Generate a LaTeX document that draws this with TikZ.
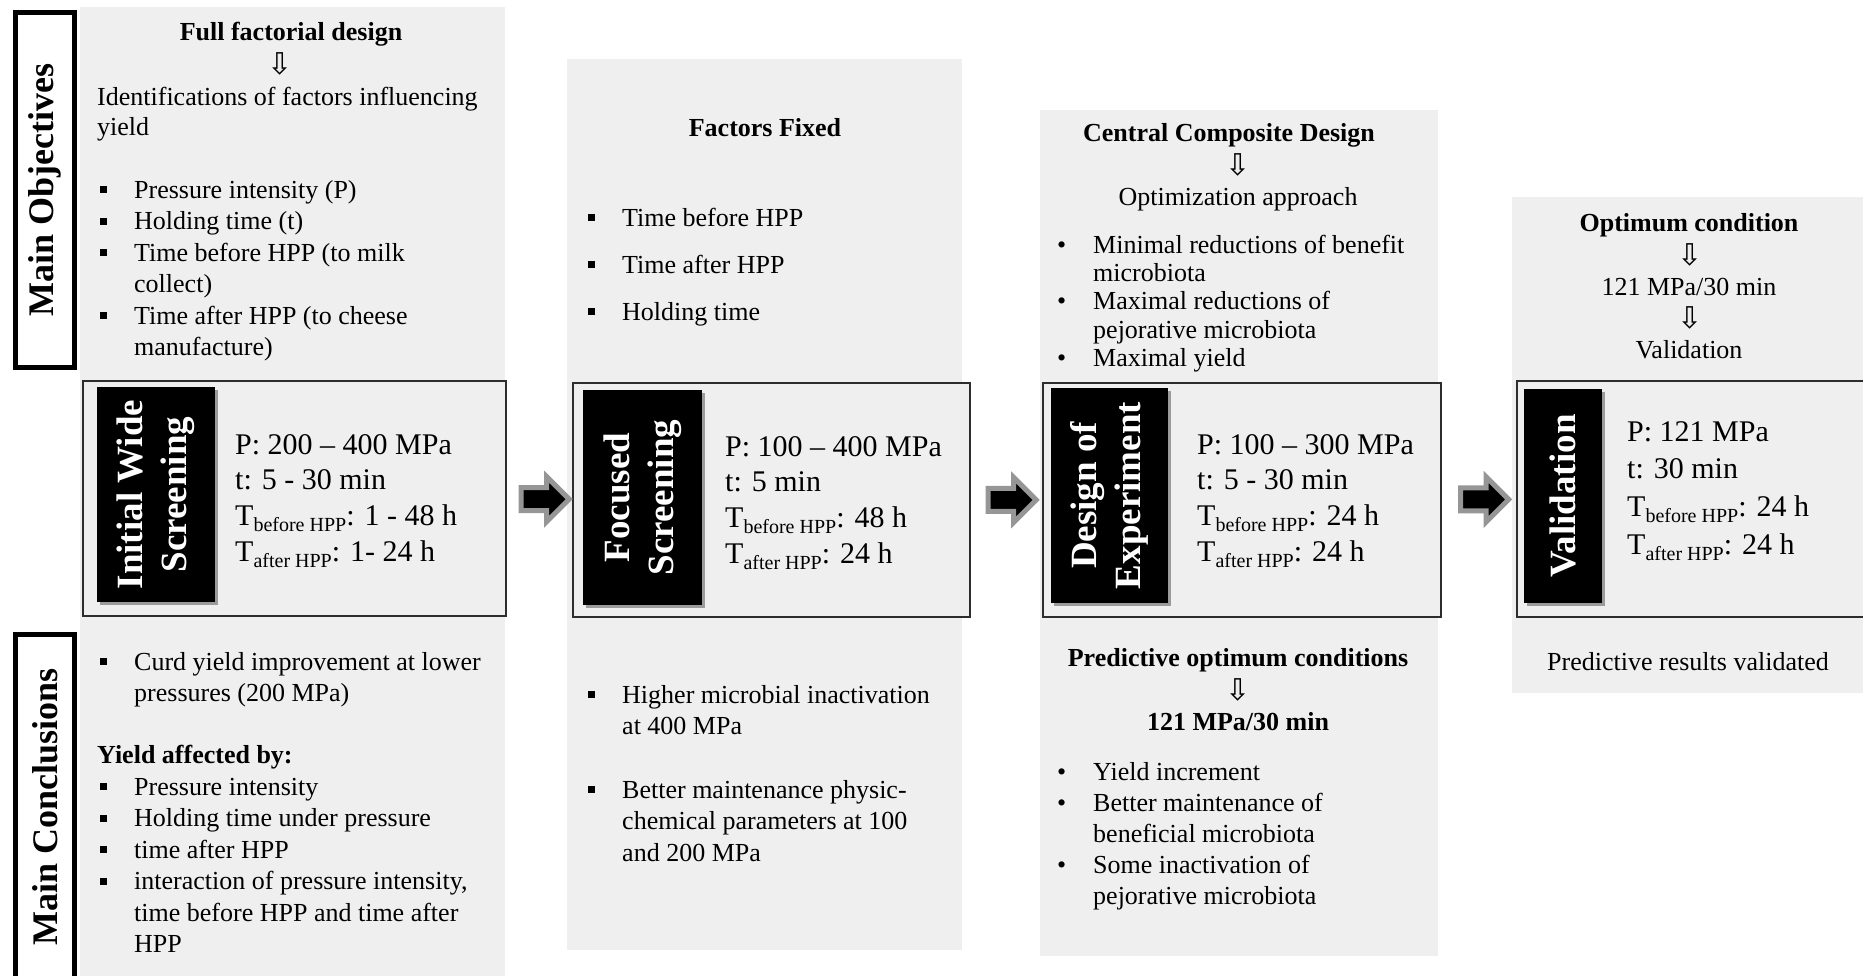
\documentclass[tikz,border=0pt]{standalone}
\usepackage{fontspec}
\usepackage{graphicx}
\setmainfont{Liberation Serif}
\newfontfamily\arrowfont{DejaVu Sans}
\usetikzlibrary{shapes.arrows,shadows,calc}

\definecolor{panelgray}{RGB}{239,239,239}
\definecolor{framegray}{RGB}{45,45,45}
\definecolor{arrowrim}{RGB}{150,150,150}

% list helpers: square and round bullets, top-aligned row blocks
\newcommand\sqb{\makebox[34pt][l]{\raisebox{5pt}{\rule{7pt}{7pt}}}}
\newcommand\rdb{\makebox[36pt][l]{\textbullet}}
\newcommand\bulletrows[1]{\begin{tabular}[t]{@{}l@{}l@{}}#1\end{tabular}}
\newcommand\onecol[1]{\begin{tabular}[t]{@{}l@{}}#1\end{tabular}}
\newcommand\Tsub[1]{T\raisebox{-6pt}{\fontsize{20}{20}\selectfont #1}}
\newcommand\twolines[1]{\begin{tabular}{@{}c@{}}#1\end{tabular}}

\tikzset{
  panel/.style={fill=panelgray, draw=none, inner sep=0pt, anchor=north west},
  frame/.style={draw=framegray, line width=1.8pt, fill=panelgray, inner sep=0pt, anchor=north west},
  tag/.style={fill=black, text=white, inner sep=0pt,
    font=\fontsize{37}{44}\selectfont\bfseries,
    drop shadow={shadow xshift=3pt, shadow yshift=-3pt, fill=black, opacity=0.35}},
  sidebox/.style={draw=black, line width=5pt, fill=white, inner sep=0pt,
    font=\fontsize{36}{40}\selectfont\bfseries},
  body/.style={font=\fontsize{26}{31.5}\selectfont, inner sep=0pt, anchor=base west},
  head/.style={font=\fontsize{26}{31.5}\selectfont\bfseries, inner sep=0pt, anchor=base},
  centre/.style={font=\fontsize{26}{31.5}\selectfont, inner sep=0pt, anchor=base},
  darrow/.style={font=\fontsize{30}{30}\selectfont\arrowfont, inner sep=0pt},
  params/.style={font=\fontsize{30}{35.7}\selectfont, inner sep=0pt, anchor=base west},
  blockarrow/.style={single arrow, fill=black, draw=arrowrim, line width=5pt,
    minimum height=48pt, minimum width=40pt, inner xsep=0pt, inner ysep=9pt,
    single arrow head extend=11pt}
}

\begin{document}
\begin{tikzpicture}[x=1pt, y=-1pt]
\useasboundingbox (0,0) rectangle (1863,975);
\clip (0,0) rectangle (1863,975);

% grey column panels
\node[panel, minimum width=425pt, minimum height=980pt] (p1) at (80,7) {};
\node[panel, minimum width=395pt, minimum height=891pt] (p2) at (567,59) {};
\node[panel, minimum width=398pt, minimum height=846pt] (p3) at (1040,110) {};
\node[panel, minimum width=360pt, minimum height=496pt] (p4) at (1512,197) {};

% framed stage boxes
\node[frame, minimum width=423pt, minimum height=235pt] (f1) at (82,380) {};
\node[frame, minimum width=397pt, minimum height=234pt] (f2) at (572,382) {};
\node[frame, minimum width=398pt, minimum height=234pt] (f3) at (1042,382) {};
\node[frame, minimum width=370pt, minimum height=236pt] (f4) at (1516,380) {};

% black stage tags
\node[tag, minimum width=118pt, minimum height=215pt] (t1) at (156,494.5)
  {\rotatebox{90}{\twolines{Initial Wide\\Screening}}};
\node[tag, minimum width=119pt, minimum height=215pt] (t2) at (642.5,497.5)
  {\rotatebox{90}{\twolines{Focused\\Screening}}};
\node[tag, minimum width=117pt, minimum height=215pt] (t3) at (1109.5,495.5)
  {\rotatebox{90}{\twolines{Design of\\Experiment}}};
\node[tag, minimum width=78pt, minimum height=214pt] (t4) at (1563,496)
  {\rotatebox{90}{Validation}};

% row headers
\node[sidebox, minimum width=59pt, minimum height=355pt] (mo) at (45,190)
  {\rotatebox{90}{Main Objectives}};
\node[sidebox, minimum width=59pt, minimum height=345pt] (mc) at (45,807)
  {\rotatebox{90}{Main Conclusions}};

% stage parameters
\node[params] (v1) at (235,454) {\onecol{P: 200 – 400 MPa\\ t: 5 - 30 min\\ \Tsub{before HPP}: 1 - 48 h\\ \Tsub{after HPP}: 1- 24 h}};
\node[params] (v2) at (725,456) {\onecol{P: 100 – 400 MPa\\ t: 5 min\\ \Tsub{before HPP}: 48 h\\ \Tsub{after HPP}: 24 h}};
\node[params] (v3) at (1197,454) {\onecol{P: 100 – 300 MPa\\ t: 5 - 30 min\\ \Tsub{before HPP}: 24 h\\ \Tsub{after HPP}: 24 h}};
\node[params, font=\fontsize{30}{37.7}\selectfont] (v4) at (1627,441) {\onecol{P: 121 MPa\\ t: 30 min\\ \Tsub{before HPP}: 24 h\\ \Tsub{after HPP}: 24 h}};

% column 1
\node[head] (h1) at (291,40) {Full factorial design};
\node[darrow] (d1) at (280,64) {⇩};
\node[body, font=\fontsize{26}{30}\selectfont] (o1) at (97,105) {\onecol{Identifications of factors influencing\\yield}};
\node[body] (o1b) at (100,198) {\bulletrows{\sqb & Pressure intensity (P)\\ \sqb & Holding time (t)\\ \sqb & Time before HPP (to milk\\ & collect)\\ \sqb & Time after HPP (to cheese\\ & manufacture)}};
\node[body] (c1a) at (100,670) {\bulletrows{\sqb & Curd yield improvement at lower\\ & pressures (200 MPa)}};
\node[body, font=\fontsize{26}{31.5}\selectfont\bfseries] (c1h) at (97,763) {Yield affected by:};
\node[body] (c1b) at (100,795) {\bulletrows{\sqb & Pressure intensity\\ \sqb & Holding time under pressure\\ \sqb & time after HPP\\ \sqb & interaction of pressure intensity,\\ & time before HPP and time after\\ & HPP}};

% column 2
\node[head] (h2) at (765,136) {Factors Fixed};
\node[body] (o2) at (588,226) {\bulletrows{\sqb & Time before HPP\\[15.5pt] \sqb & Time after HPP\\[15.5pt] \sqb & Holding time}};
\node[body] (c2a) at (588,703) {\bulletrows{\sqb & Higher microbial inactivation\\ & at 400 MPa}};
\node[body] (c2b) at (588,798) {\bulletrows{\sqb & Better maintenance physic-\\ & chemical parameters at 100\\ & and 200 MPa}};

% column 3
\node[head] (h3) at (1229,141) {Central Composite Design};
\node[darrow] (d3) at (1238,165) {⇩};
\node[centre] (o3) at (1238,205) {Optimization approach};
\node[body, font=\fontsize{26}{28.4}\selectfont] (o3b) at (1057,253) {\bulletrows{\rdb & Minimal reductions of benefit\\ & microbiota\\ \rdb & Maximal reductions of\\ & pejorative microbiota\\ \rdb & Maximal yield}};
\node[head] (c3h) at (1238,666) {Predictive optimum conditions};
\node[darrow] (d3b) at (1238,690) {⇩};
\node[head] (c3v) at (1238,730) {121 MPa/30 min};
\node[body, font=\fontsize{26}{31}\selectfont] (c3b) at (1057,780) {\bulletrows{\rdb & Yield increment\\ \rdb & Better maintenance of\\ & beneficial microbiota\\ \rdb & Some inactivation of\\ & pejorative microbiota}};

% column 4
\node[head] (h4) at (1689,231) {Optimum condition};
\node[darrow] (d4a) at (1690,255) {⇩};
\node[centre] (o4a) at (1689,295) {121 MPa/30 min};
\node[darrow] (d4b) at (1690,318) {⇩};
\node[centre] (o4b) at (1689,358) {Validation};
\node[centre] (c4) at (1688,670) {Predictive results validated};

% block arrows between stages
\node[blockarrow] (a1) at ($(f1.east)!0.5!(f2.west)$) {};
\node[blockarrow] (a2) at ($(f2.east)!0.5!(f3.west)$) {};
\node[blockarrow] (a3) at ($(f3.east)!0.5!(f4.west)$) {};
\end{tikzpicture}
\end{document}
